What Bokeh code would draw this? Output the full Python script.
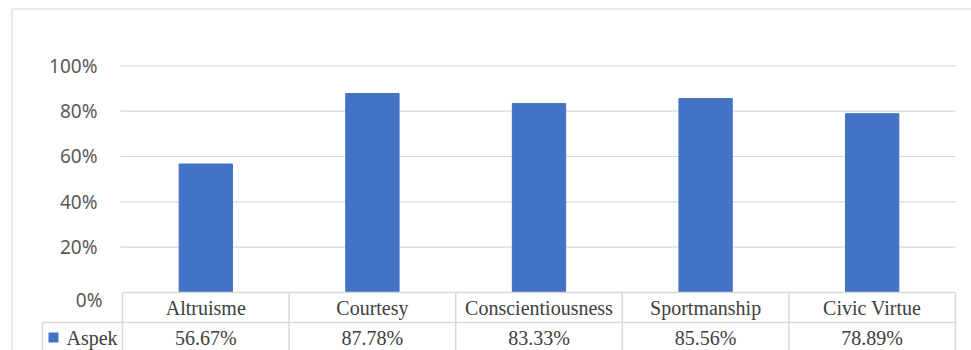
from bokeh.plotting import figure
from bokeh.models import Range1d, ColumnDataSource
from bokeh.core.properties import value
from bokeh.embed import file_html
from bokeh.resources import INLINE

# ---- data ----
categories = ["Altruisme", "Courtesy", "Conscientiousness", "Sportmanship", "Civic Virtue"]
values = [0.5667, 0.8778, 0.8333, 0.8556, 0.7889]
value_labels = ["56.67%", "87.78%", "83.33%", "85.56%", "78.89%"]
series_name = "Aspek"
y_ticks = [0.0, 0.2, 0.4, 0.6, 0.8, 1.0]
y_tick_labels = ["0%", "20%", "40%", "60%", "80%", "100%"]

# ---- layout (pixels) ----
W, H = 971, 350
X0 = 122.0            # left edge of first category column
CAT_W = 166.6         # width of one category column
Y0 = 292.0            # pixel row of 0%
S = 226.7             # pixels per 100%
ROW_H = 30.0

def dx(px):
    return (px - X0) / CAT_W - 0.5

def dy(py):
    return (Y0 - py) / S

BLUE = "#4472C4"
GRID = "#d9d9d9"
TXT = "#404040"
TICK = "#595959"

p = figure(width=W, height=H, output_backend="svg", toolbar_location=None,
           x_range=Range1d(dx(0), dx(W)), y_range=Range1d(dy(H), dy(0)),
           x_axis_location=None, y_axis_location=None,
           min_border=0, min_border_left=0, min_border_right=0,
           min_border_top=0, min_border_bottom=0)
p.grid.visible = False
p.outline_line_color = None
p.background_fill_color = "white"
p.border_fill_color = "white"

n = len(categories)
idx = list(range(n))

# outer chart border (left and top)
p.line([dx(11.5), dx(11.5), dx(W + 5)], [dy(H + 5), dy(8.5), dy(8.5)],
       line_color=GRID, line_width=1.2)

# gridlines
grid_x0 = dx(120)
grid_x1 = n - 0.5
gt = [t for t in y_ticks if t > 0]
p.segment(x0=[grid_x0] * len(gt), x1=[grid_x1] * len(gt), y0=gt, y1=gt,
          line_color=GRID, line_width=1.2)

# bars
src = ColumnDataSource(dict(x=idx, top=values, cat=categories, lab=value_labels))
p.vbar(x="x", top="top", bottom=0, width=0.32, source=src,
       fill_color=BLUE, line_color=BLUE)

# y tick labels
p.text(x=[dx(97)] * len(gt), y=gt,
       text=[y_tick_labels[y_ticks.index(t)] for t in gt],
       text_align="right", text_baseline="middle",
       text_font=value("Noto Sans"), text_font_size="19px", text_color=TICK)
p.text(x=[dx(102)], y=[dy(299)], text=[y_tick_labels[0]],
       text_align="right", text_baseline="middle",
       text_font=value("Noto Sans"), text_font_size="19px", text_color=TICK)

# data table lines
row1_bottom = dy(Y0 + ROW_H)
bottom = dy(Y0 + 2 * ROW_H + 2)
p.segment(x0=[-0.5, dx(42)], x1=[n - 0.5, n - 0.5], y0=[0, row1_bottom], y1=[0, row1_bottom],
          line_color=GRID, line_width=1.5)
bx = [i - 0.5 for i in range(n + 1)]
p.segment(x0=bx, x1=bx, y0=[0] * len(bx), y1=[bottom] * len(bx),
          line_color=GRID, line_width=1.5)
p.segment(x0=[dx(42)], x1=[dx(42)], y0=[row1_bottom], y1=[bottom],
          line_color=GRID, line_width=1.5)

# table texts
p.text(x="x", y=dy(307), text="cat", source=src, text_align="center", text_baseline="middle",
       text_font=value("Liberation Serif"), text_font_size="20px", text_color=TXT)
p.text(x="x", y=dy(337), text="lab", source=src, text_align="center", text_baseline="middle",
       text_font=value("Liberation Serif"), text_font_size="20px", text_color=TXT)

# legend key
p.scatter(x=[dx(53)], y=[dy(337)], marker="square", size=10, fill_color=BLUE, line_color=None)
p.text(x=[dx(66)], y=[dy(337)], text=[series_name], text_align="left", text_baseline="middle",
       text_font=value("Liberation Serif"), text_font_size="20px", text_color=TXT)

open("out.html", "w").write(file_html(p, INLINE))
